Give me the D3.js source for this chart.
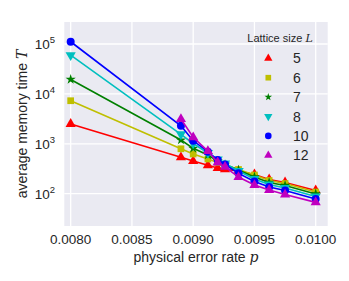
<!DOCTYPE html>
<html><head><meta charset="utf-8">
<script src="https://cdn.jsdelivr.net/npm/d3@7"></script>
<style>
html,body{margin:0;padding:0;background:#fff;}
svg text{font-family:"Liberation Sans",Arial,sans-serif;fill:#262626;}
</style></head>
<body><svg id="c" width="349" height="281"></svg>
<script>
const pAll = [0.0080, 0.0089, 0.0090, 0.00912, 0.0092, 0.00926, 0.00937, 0.0095, 0.00962, 0.00975, 0.0100];
const sizes = ["5", "6", "7", "8", "10", "12"];
const T5  = [2500, 537, 452, 371, 327, 309, 285, 243, 193, 168, 116];
const T6  = [7300, 795, 625, 496, 422, 376, 306, 237, 184, 160, 108];
const T7  = [19500, 1190, 812, 597, 452, 385, 299, 216, 168, 146, 99];
const T8  = [60000, 1550, 1015, 655, 484, 403, 285, 197, 153, 130, 88];
const T10 = [111000, 2300, 1150, 695, 473, 385, 256, 175, 136, 116, 78];
const T12 = [null, 3140, 1350, 716, 422, 345, 216, 149, 119, 96, 67];
const xTicks = [0.0080, 0.0085, 0.0090, 0.0095, 0.0100];
const yTicks = [1e2, 1e3, 1e4, 1e5];
const colors = ["#ff0000", "#bfbf00", "#008000", "#00bfbf", "#0000ff", "#bf00bf"];
const markers = ["tri", "square", "star", "tridown", "circle", "tri"];

const series = [T5, T6, T7, T8, T10, T12].map((vals, i) => ({
  name: sizes[i], color: colors[i], marker: markers[i],
  pts: pAll.map((p, j) => ({p, t: vals[j]})).filter(d => d.t != null)
}));

const svg = d3.select("#c");
const L = 64.3, R = 327.7, Tp = 22, B = 226;
const x = d3.scaleLinear().domain([0.007948, 0.010098]).range([L, R]);
const y = d3.scaleLog().domain([Math.pow(10, 1.353), Math.pow(10, 5.441)]).range([B, Tp]);

svg.append("rect").attr("x", L).attr("y", Tp).attr("width", R - L).attr("height", B - Tp).attr("fill", "#eaeaf2");
const g = svg.append("g");
g.selectAll(".vg").data(xTicks).join("line").attr("x1", d => x(d)).attr("x2", d => x(d))
  .attr("y1", Tp).attr("y2", B).attr("stroke", "#fff").attr("stroke-width", 1.3);
g.selectAll(".hg").data(yTicks).join("line").attr("y1", d => y(d)).attr("y2", d => y(d))
  .attr("x1", L).attr("x2", R).attr("stroke", "#fff").attr("stroke-width", 1.3);

svg.selectAll(".xt").data(xTicks).join("text").attr("x", d => x(d)).attr("y", 243.5)
  .attr("text-anchor", "middle").attr("font-size", 13.5).text(d => d.toFixed(4));
const yt = svg.selectAll(".yt").data(yTicks).join("text").attr("x", 55).attr("y", d => y(d) + 5)
  .attr("text-anchor", "end").attr("font-size", 13.5);
yt.append("tspan").text("10");
yt.append("tspan").attr("dy", -6).attr("font-size", 9.5).text(d => Math.round(Math.log10(d)));

const xl = svg.append("text").attr("x", 196).attr("y", 262).attr("text-anchor", "middle").attr("font-size", 14);
xl.append("tspan").text("physical error rate ");
xl.append("tspan").attr("font-family", "DejaVu Serif, serif").attr("font-style", "italic").text("p");
const yl = svg.append("text").attr("transform", "translate(27,124) rotate(-90)").attr("text-anchor", "middle").attr("font-size", 14);
yl.append("tspan").text("average memory time ");
yl.append("tspan").attr("font-family", "DejaVu Serif, serif").attr("font-style", "italic").text("T");

function symPath(m, s) {
  if (m === "tri" || m === "tridown") return d3.symbol(d3.symbolTriangle, s)();
  if (m === "square") return d3.symbol(d3.symbolSquare, s)();
  if (m === "star") return d3.symbol(d3.symbolStar, s)();
  return d3.symbol(d3.symbolCircle, s)();
}
const sizeFor = {tri: 45, tridown: 45, square: 45, star: 32, circle: 50};
const legSize = {tri: 30, tridown: 30, square: 32, star: 18, circle: 34};

const line = d3.line().x(d => x(d.p)).y(d => y(d.t));
const plot = svg.append("g");
series.forEach(s => {
  plot.append("path").datum(s.pts).attr("d", line).attr("fill", "none")
    .attr("stroke", s.color).attr("stroke-width", 1.6);
  plot.selectAll(null).data(s.pts).join("path")
    .attr("d", symPath(s.marker, sizeFor[s.marker]))
    .attr("transform", d => `translate(${x(d.p)},${y(d.t)})` + (s.marker === "tridown" ? " rotate(180)" : ""))
    .attr("fill", s.color);
});

const lg = svg.append("g");
const lt = lg.append("text").attr("x", 280).attr("y", 42).attr("text-anchor", "middle").attr("font-size", 11);
lt.append("tspan").text("Lattice size ");
lt.append("tspan").attr("font-family", "DejaVu Serif, serif").attr("font-style", "italic").text("L");
series.forEach((s, i) => {
  const yy = 58.3 + i * 19.4;
  lg.append("path").attr("d", symPath(s.marker, legSize[s.marker]))
    .attr("transform", `translate(268.3,${yy})` + (s.marker === "tridown" ? " rotate(180)" : ""))
    .attr("fill", s.color);
  lg.append("text").attr("x", 293).attr("y", yy + 5).attr("font-size", 14).text(s.name);
});
</script></body></html>
